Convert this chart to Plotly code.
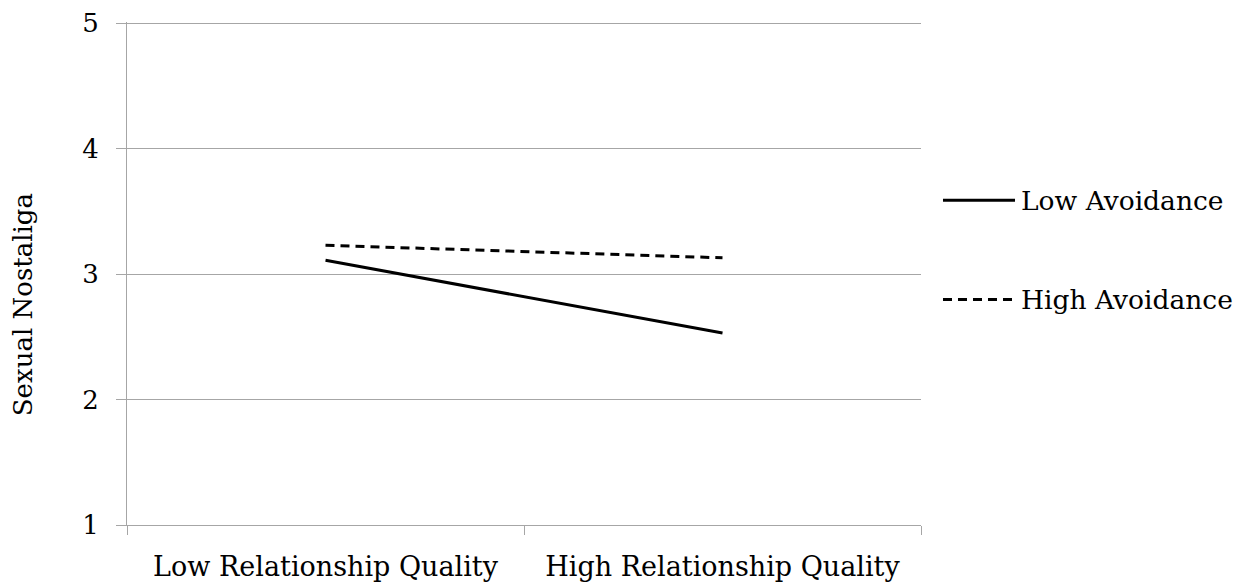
import plotly.graph_objects as go

categories = ["Low Relationship Quality", "High Relationship Quality"]
low_avoidance = [3.11, 2.53]
high_avoidance = [3.23, 3.13]
y_ticks = [1, 2, 3, 4, 5]
series_names = ["Low Avoidance", "High Avoidance"]
y_title = "Sexual Nostaliga"

FONT = "DejaVu Serif"
GRID = "#a6a6a6"
DASH = "9px,6px"

fig = go.Figure()
fig.add_trace(go.Scatter(
    x=categories, y=low_avoidance, mode="lines", name=series_names[0],
    line=dict(color="black", width=3), showlegend=False))
fig.add_trace(go.Scatter(
    x=categories, y=high_avoidance, mode="lines", name=series_names[1],
    line=dict(color="black", width=3, dash=DASH), showlegend=False))

# legend (keys + labels) placed to the right of the plot area
legend_rows = [(series_names[0], "solid", 0.6454), (series_names[1], DASH, 0.4482)]
for name, dash, yy in legend_rows:
    fig.add_shape(type="line", xref="paper", yref="paper",
                  x0=1.0277, x1=1.1184, y0=yy, y1=yy,
                  line=dict(color="black", width=3, dash=dash))
    fig.add_annotation(xref="paper", yref="paper", x=1.123, y=yy,
                       xanchor="left", yanchor="middle", showarrow=False,
                       text=name, font=dict(family=FONT, size=26.5, color="black"))

# y-axis title
fig.add_annotation(xref="paper", yref="paper", x=-0.1316, y=0.438,
                   xanchor="center", yanchor="middle", showarrow=False,
                   textangle=-90, text=y_title,
                   font=dict(family=FONT, size=26, color="black"))

fig.update_layout(
    width=1240, height=579,
    margin=dict(l=119, r=327, t=14, b=62, autoexpand=False),
    paper_bgcolor="white", plot_bgcolor="white",
    font=dict(family=FONT, color="black", size=26),
    showlegend=False,
    xaxis=dict(
        type="category", showgrid=False, showline=True, linecolor=GRID, linewidth=1,
        ticks="outside", tickson="boundaries", ticklen=9, tickcolor=GRID,
        tickfont=dict(family=FONT, size=27), range=[-0.5, 1.5],
        zeroline=False, automargin=False, ticklabelstandoff=18),
    yaxis=dict(
        range=[1, 5.01], tickvals=y_ticks, showgrid=True, gridcolor=GRID, gridwidth=1,
        showline=True, linecolor=GRID, linewidth=1, ticks="outside", ticklen=10,
        tickcolor=GRID, tickfont=dict(family=FONT, size=26), zeroline=False,
        automargin=False, ticklabelstandoff=12, ticklabeloverflow="allow"),
)

fig.write_html("out.html")
